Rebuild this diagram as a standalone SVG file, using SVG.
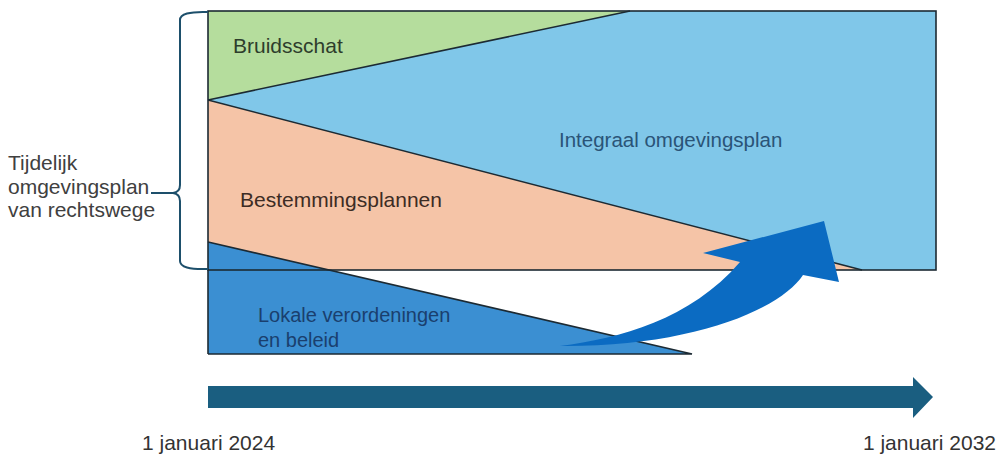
<svg xmlns="http://www.w3.org/2000/svg" width="1000" height="455" viewBox="0 0 1000 455">
<style>
text{font-family:"Liberation Sans",Arial,sans-serif}
.edge{stroke:#1c2a33;stroke-width:1.6;fill:none}
.lbl{font-size:20px}
.side{font-size:21px;fill:#404040}
.date{font-size:21px;fill:#333333}
</style>
<rect width="1000" height="455" fill="#ffffff"/>
<g id="integraal">
<rect x="208" y="11" width="728" height="259" fill="#80c7e9"/>
<text class="lbl" x="559" y="147" fill="#2a5478" style="font-size:20.5px">Integraal omgevingsplan</text>
</g>
<g id="bruidsschat">
<polygon points="208,11 630,11 208,100" fill="#b5dd9d"/>
<line class="edge" x1="208" y1="100" x2="630" y2="11"/>
<text class="lbl" x="233" y="53" fill="#2e3d2c" style="font-size:21px">Bruidsschat</text>
</g>
<g id="bestemmingsplannen">
<polygon points="208,100 862,270 208,270" fill="#f5c4a7"/>
<line class="edge" x1="208" y1="100" x2="862" y2="270"/>
<text class="lbl" x="240" y="207" fill="#3d2c24" style="font-size:21px">Bestemmingsplannen</text>
</g>
<g id="lokale">
<polygon points="208,242 692,354 208,354" fill="#3b8fd2"/>
<polyline class="edge" points="208,242 692,354 208,354"/>
<text class="lbl" x="258" y="322" fill="#1a3f6e">Lokale verordeningen</text>
<text class="lbl" x="258" y="347" fill="#1a3f6e">en beleid</text>
</g>
<rect class="edge" x="208" y="11" width="728" height="259"/>
<line class="edge" x1="208" y1="270" x2="208" y2="354"/>
<g id="transitie">
<path d="M560,346 C620,338 690,320 740,262 L703,253 L824,221 L839,282 L803,275 C780,310 690,347 560,346 Z" fill="#0b6bc2"/>
</g>
<g id="tijdelijk">
<path d="M208,12 Q180,11 180,20 L180,185 Q180,192 173,193 Q180,194 180,201 L180,261 Q180,270 208,269" fill="none" stroke="#1d4f6b" stroke-width="2"/>
<line x1="151" y1="193" x2="173" y2="193" stroke="#1d4f6b" stroke-width="2"/>
<text class="side" x="8" y="170">Tijdelijk</text>
<text class="side" x="8" y="194">omgevingsplan</text>
<text class="side" x="8" y="217">van rechtswege</text>
</g>
<g id="tijdlijn">
<polygon points="208,386 913,386 913,377 933,397 913,418 913,408 208,408" fill="#1a5e80"/>
<text class="date" x="142" y="450">1 januari 2024</text>
<text class="date" x="996" y="450" text-anchor="end">1 januari 2032</text>
</g>
</svg>
